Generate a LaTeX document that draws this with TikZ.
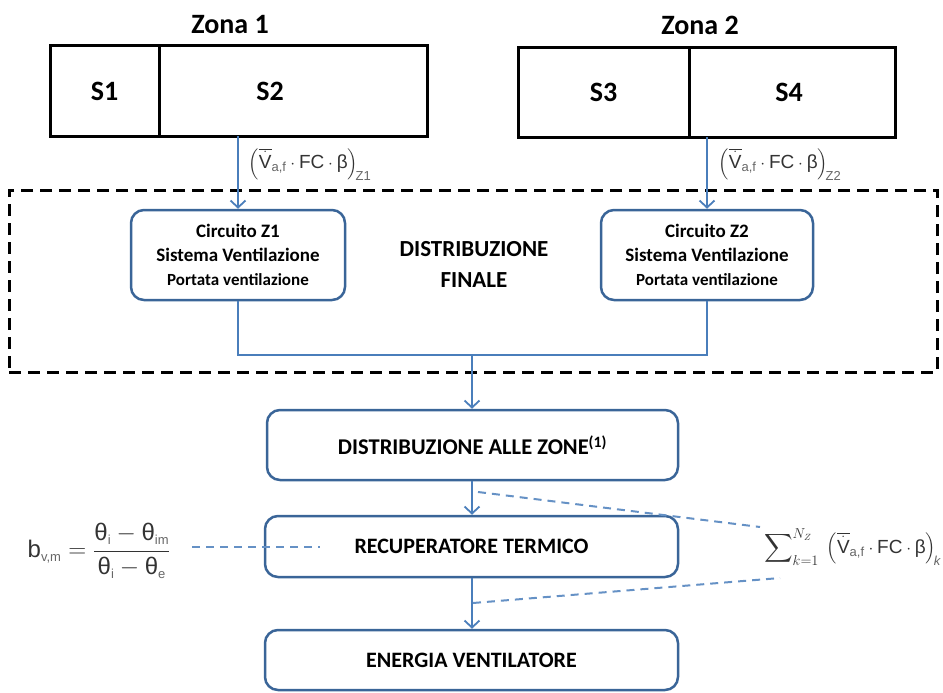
\documentclass[tikz,border=0pt]{standalone}
\usepackage{amsmath}
\usepackage{fontspec}
\setmainfont{Carlito}
\newfontfamily\formfont{Liberation Sans}
\usetikzlibrary{arrows.meta,calc}
\definecolor{arrblue}{HTML}{4A7EBB}
\definecolor{boxblue}{HTML}{3A6598}
\definecolor{formgray}{HTML}{333333}
\definecolor{subgray}{HTML}{666666}
\begin{document}
\begin{tikzpicture}[x=1pt,y=-1pt,
  zonebox/.style={draw=black, line width=3pt, minimum height=90pt, inner sep=0pt,
    font=\fontsize{28}{32}\selectfont\bfseries},
  zonelab/.style={font=\fontsize{28}{32}\selectfont\bfseries, inner sep=0pt},
  rbox/.style={draw=boxblue, line width=2.5pt, rounded corners=13pt, fill=white,
    align=center, inner sep=0pt},
  flow/.style={draw=arrblue, line width=2pt},
  arr/.style={flow, -{Straight Barb[length=7pt,width=15pt,line width=1.8pt]}},
  blued/.style={draw=arrblue!85, line width=2pt, dash pattern=on 8pt off 6pt},
  frm/.style={font=\formfont\fontsize{19}{23}\selectfont, text=formgray, inner sep=0pt},
]
\useasboundingbox (0,0) rectangle (943,693);

% zones
\node[zonelab] (z1lab) at (230,25) {Zona 1};
\node[zonelab] (z2lab) at (700,25) {Zona 2};
\node[zonebox, minimum width=109pt] (s1) at (104.5,91) {S1};
\node[zonebox, minimum width=268pt, label={[xshift=-23pt, font=\fontsize{28}{32}\selectfont\bfseries]center:S2}] (s2) at (293,91) {};
\node[zonebox, minimum width=171pt, minimum height=89pt] (s3) at (603.5,92.5) {S3};
\node[zonebox, minimum width=206pt, minimum height=89pt, label={[xshift=-3pt, font=\fontsize{28}{32}\selectfont\bfseries]center:S4}] (s4) at (792,92.5) {};

% dashed frame
\node[draw=black, line width=3pt, dash pattern=on 12pt off 7pt, minimum width=928pt,
  minimum height=182pt, inner sep=0pt] (fin) at (473,281) {};
\node[font=\fontsize{23}{31}\selectfont\bfseries, align=center] (finlab) at (474,264)
  {DISTRIBUZIONE\\FINALE};

% circuits
\node[rbox, minimum width=214pt, minimum height=90pt,
  font=\fontsize{19}{24}\selectfont\bfseries] (c1) at (238,255)
  {Circuito Z1\\Sistema Ventilazione\\{\fontsize{17}{22}\selectfont Portata ventilazione}};
\node[rbox, minimum width=212pt, minimum height=90pt,
  font=\fontsize{19}{24}\selectfont\bfseries] (c2) at (707,255)
  {Circuito Z2\\Sistema Ventilazione\\{\fontsize{17}{22}\selectfont Portata ventilazione}};

% lower chain
\node[rbox, minimum width=411pt, minimum height=70pt,
  font=\fontsize{22.5}{26}\selectfont\bfseries] (daz) at (472.5,445)
  {DISTRIBUZIONE ALLE ZONE\textsuperscript{(1)}};
\node[rbox, minimum width=413pt, minimum height=61pt,
  font=\fontsize{22}{26}\selectfont\bfseries] (rec) at (471.5,546.5)
  {RECUPERATORE TERMICO};
\node[rbox, minimum width=413pt, minimum height=60pt,
  font=\fontsize{22}{26}\selectfont\bfseries] (ene) at (471.5,660)
  {ENERGIA VENTILATORE};

% connectors
\draw[arr] (238,136) -- (c1.north -| 238,0);
\draw[arr] (707,137) -- (c2.north);
\coordinate (join) at (472,355);
\draw[flow] (c1.south) -- (c1.south |- join) -- (c2.south |- join) -- (c2.south);
\draw[arr] (join) -- (daz.north -| join);
\draw[arr] (daz.south -| join) -- (rec.north -| join);
\draw[arr] (rec.south -| join) -- (ene.north -| join);

% formulas top
\node[frm] (f1) at (310,164)
  {$\left(\overline{\dot{\mbox{V}}}_{\mbox{\color{subgray}\fontsize{13}{15}\selectfont a,f}}\cdot\mbox{FC}\cdot\mbox{β}\right)_{\!\mbox{\color{subgray}\fontsize{13}{15}\selectfont Z1}}$};
\node[frm] (f2) at (780,164)
  {$\left(\overline{\dot{\mbox{V}}}_{\mbox{\color{subgray}\fontsize{13}{15}\selectfont a,f}}\cdot\mbox{FC}\cdot\mbox{β}\right)_{\!\mbox{\color{subgray}\fontsize{13}{15}\selectfont Z2}}$};

% formula left
\node[frm, font=\formfont\fontsize{24}{28}\selectfont] (bvm) at (99,551)
  {$\mbox{b}_{\mbox{\color{subgray}\fontsize{13}{15}\selectfont v,m}} = \dfrac{\mbox{θ}_{\mbox{\color{subgray}\fontsize{13}{15}\selectfont i}}-\mbox{θ}_{\mbox{\color{subgray}\fontsize{13}{15}\selectfont im}}}{\mbox{θ}_{\mbox{\color{subgray}\fontsize{13}{15}\selectfont i}}-\mbox{θ}_{\mbox{\color{subgray}\fontsize{13}{15}\selectfont e}}}$};

% formula right
\node[frm, anchor=east] (sum) at (941,547)
  {$\mathop{\vcenter{\hbox{\scalebox{1.15}{$\displaystyle\sum$}}}}\nolimits_{k=1}^{N_Z}\;\left(\overline{\dot{\mbox{V}}}_{\mbox{\color{subgray}\fontsize{13}{15}\selectfont a,f}}\cdot\mbox{FC}\cdot\mbox{β}\right)_{\!\mbox{\color{subgray}\fontsize{13}{15}\selectfont\itshape k}}$};

% dashed blue leaders
\coordinate (bl1) at (192,547);
\coordinate (bl2) at (320,547);
\draw[blued] (bl1) -- (bl2);
\coordinate (u1) at (478,492);
\coordinate (u2) at (760,527);
\draw[blued] (u1) -- (u2);
\coordinate (l1) at (473,603);
\coordinate (l2) at (780,578);
\draw[blued] (l1) -- (l2);
\end{tikzpicture}
\end{document}
